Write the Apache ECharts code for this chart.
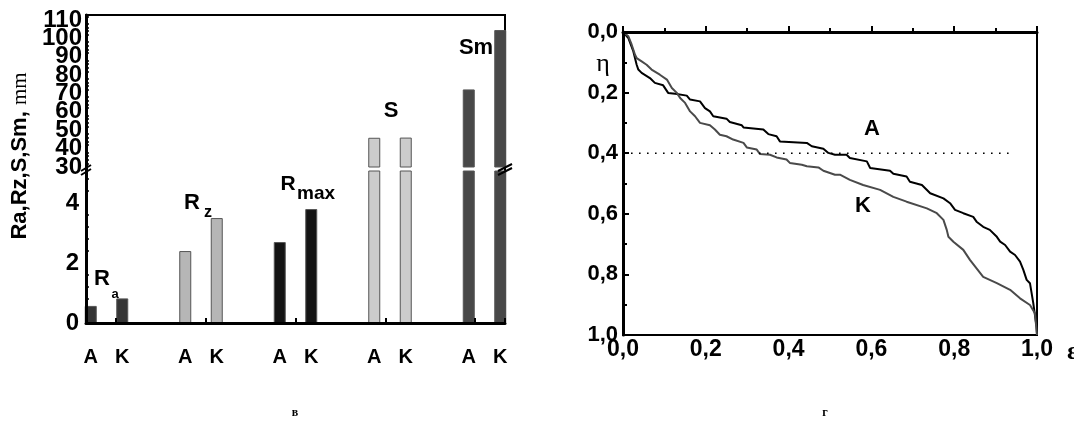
<!DOCTYPE html>
<html>
<head>
<meta charset="utf-8">
<title>Ra, Rz, S, Sm / eta</title>
<script src="https://cdn.jsdelivr.net/npm/echarts@6/dist/echarts.min.js"></script>
</head>
<body style="margin:0;background:#fff">
<div id="main" style="width:1074px;height:421px;"></div>
<script>
// left panel (в): roughness parameters, sample A and sample K
var groups = ['Ra', 'Rz', 'Rmax', 'S', 'Sm'];
var valuesA = [0.57, 2.4, 2.7, 45.9, 72.2];
var valuesK = [0.82, 3.5, 3.8, 46.0, 104.5];
var pairNames = ['A', 'K'];
var groupColors = ['#353535', '#b6b6b6', '#141414', '#cccccc', '#484848'];

// right panel (г): eta curves, [x, eta]
var curveA = [[0, 0], [0.013, 0.02], [0.025, 0.064], [0.033, 0.108], [0.037, 0.124], [0.045, 0.135],
  [0.065, 0.152], [0.077, 0.168], [0.097, 0.176], [0.109, 0.201], [0.126, 0.204], [0.154, 0.21],
  [0.162, 0.223], [0.186, 0.229], [0.198, 0.251], [0.21, 0.262], [0.218, 0.278], [0.25, 0.286],
  [0.258, 0.297], [0.287, 0.308], [0.291, 0.315], [0.339, 0.322], [0.351, 0.337], [0.371, 0.344],
  [0.379, 0.361], [0.444, 0.366], [0.456, 0.377], [0.484, 0.385], [0.496, 0.399], [0.512, 0.405],
  [0.54, 0.405], [0.548, 0.416], [0.589, 0.427], [0.597, 0.449], [0.645, 0.458], [0.653, 0.468],
  [0.685, 0.477], [0.693, 0.494], [0.722, 0.505], [0.742, 0.532], [0.774, 0.549], [0.79, 0.565],
  [0.802, 0.587], [0.822, 0.598], [0.846, 0.61], [0.854, 0.626], [0.87, 0.643], [0.886, 0.653],
  [0.903, 0.676], [0.911, 0.692], [0.923, 0.703], [0.935, 0.725], [0.947, 0.736], [0.959, 0.758],
  [0.967, 0.785], [0.975, 0.818], [0.983, 0.829], [0.991, 0.895], [0.999, 0.973], [1, 1]];
var curveK = [[0, 0], [0.013, 0.014], [0.021, 0.042], [0.029, 0.075], [0.033, 0.086], [0.045, 0.097],
  [0.057, 0.108], [0.069, 0.124], [0.089, 0.141], [0.106, 0.157], [0.118, 0.185], [0.13, 0.201],
  [0.138, 0.218], [0.15, 0.234], [0.162, 0.262], [0.174, 0.278], [0.186, 0.3], [0.21, 0.308],
  [0.222, 0.322], [0.234, 0.339], [0.25, 0.344], [0.266, 0.355], [0.291, 0.366], [0.299, 0.381],
  [0.323, 0.388], [0.331, 0.403], [0.355, 0.405], [0.371, 0.414], [0.395, 0.421], [0.403, 0.432],
  [0.432, 0.438], [0.444, 0.443], [0.472, 0.447], [0.484, 0.458], [0.512, 0.471], [0.524, 0.471],
  [0.548, 0.488], [0.58, 0.505], [0.621, 0.521], [0.653, 0.544], [0.685, 0.56], [0.734, 0.582],
  [0.758, 0.598], [0.774, 0.62], [0.782, 0.653], [0.786, 0.676], [0.798, 0.692], [0.822, 0.719],
  [0.838, 0.752], [0.854, 0.78], [0.87, 0.808], [0.903, 0.829], [0.935, 0.851], [0.959, 0.879],
  [0.983, 0.901], [0.995, 0.928], [1, 1]];
var levelLine = [[0, 0.4], [0.945, 0.4]];

// A, K, gap, A, K, gap ...
var slotNames = [];
var slotValues = [];
groups.forEach(function (g, i) {
  slotNames.push(pairNames[0], pairNames[1]);
  slotValues.push(valuesA[i], valuesK[i]);
  if (i < groups.length - 1) {
    slotNames.push('');
    slotValues.push('-');
  }
});

var SANS = 'Liberation Sans';
var comma = function (v) { return v.toFixed(1).replace('.', ','); };
var UPPER_MIN = 30;

var myChart = echarts.init(document.getElementById('main'));

var barStyle = {
  color: function (p) { return groupColors[Math.floor(p.dataIndex / 3)]; },
  borderColor: '#555',
  borderWidth: 1
};
var bigLabel = { color: '#000', fontFamily: SANS, fontWeight: 'bold', fontSize: 24 };

function txt(x, y, text, font, align) {
  return {
    type: 'text', x: x, y: y, z: 100,
    style: { text: text, font: font, fill: '#000', align: align || 'center', verticalAlign: 'middle',
             textAlign: align || 'center', textVerticalAlign: 'middle' }
  };
}
function slash(x1, y1, x2, y2) {
  return { type: 'line', z: 100, shape: { x1: x1, y1: y1, x2: x2, y2: y2 }, style: { stroke: '#000', lineWidth: 2 } };
}

option = {
  backgroundColor: '#fff',
  animation: false,
  grid: [
    { left: 86, top: 15, width: 419, height: 308, show: true, borderColor: '#000', borderWidth: 2 }, // frame
    { left: 75, top: 15, width: 441, height: 152 },  // upper part (30..)
    { left: 75, top: 171, width: 441, height: 152 }, // lower part (0..5)
    { left: 623, top: 32, width: 414, height: 303, show: true, borderColor: '#000', borderWidth: 2 }
  ],
  xAxis: [
    { type: 'value', gridIndex: 0, min: 0.666, max: 5.334, splitNumber: 5, z: 5,
      axisLine: { lineStyle: { color: '#000', width: 3 } },
      axisTick: { inside: true, length: 5, lineStyle: { width: 2, color: '#000' } },
      axisLabel: { show: false }, splitLine: { show: false } },
    { type: 'category', gridIndex: 1, data: slotNames, show: false },
    { type: 'category', gridIndex: 2, data: slotNames,
      axisLine: { show: false }, axisTick: { show: false },
      axisLabel: { interval: 0, margin: 24, color: '#000', fontFamily: SANS, fontWeight: 'bold', fontSize: 20 } },
    { type: 'value', gridIndex: 3, min: 0, max: 1, interval: 0.2, z: 5,
      axisLine: { lineStyle: { color: '#000', width: 3 } },
      axisTick: { inside: true, length: 6, lineStyle: { width: 2, color: '#000' } },
      minorTick: { show: true, splitNumber: 2, length: 4, lineStyle: { width: 2, color: '#000' } },
      axisLabel: { formatter: comma, margin: 3, color: '#000', fontFamily: SANS, fontWeight: 'bold', fontSize: 23,
                   showMinLabel: true, showMaxLabel: true, hideOverlap: false },
      splitLine: { show: false }, minorSplitLine: { show: false } }
  ],
  yAxis: [
    { type: 'value', gridIndex: 0, min: 0, max: 1, z: 5,
      axisLine: { lineStyle: { color: '#000', width: 3 } },
      axisTick: { show: false }, axisLabel: { show: false }, splitLine: { show: false } },
    // upper scale: 40..110 labels (30 is labelled by the helper axis below)
    { type: 'value', gridIndex: 1, position: 'left', min: UPPER_MIN, max: 112.7, interval: 10, offset: -11,
      axisLine: { show: false },
      axisTick: { inside: true, length: 6, lineStyle: { width: 2, color: '#000' } },
      minorTick: { show: true, splitNumber: 5, length: 3, lineStyle: { width: 1.5, color: '#000' } },
      axisLabel: Object.assign({ showMinLabel: false, showMaxLabel: false, margin: 4 }, bigLabel),
      splitLine: { show: false }, minorSplitLine: { show: false } },
    { type: 'value', gridIndex: 2, position: 'left', min: 0, max: 5.07, interval: 2, offset: -11,
      axisLine: { show: false },
      axisTick: { inside: true, length: 6, lineStyle: { width: 2, color: '#000' } },
      minorTick: { show: true, splitNumber: 5, length: 3, lineStyle: { width: 1.5, color: '#000' } },
      axisLabel: Object.assign({ showMinLabel: true, showMaxLabel: false, margin: 7 }, bigLabel),
      splitLine: { show: false }, minorSplitLine: { show: false } },
    { type: 'value', gridIndex: 3, inverse: true, min: 0, max: 1, interval: 0.2, z: 5,
      axisLine: { lineStyle: { color: '#000', width: 3 } },
      axisTick: { inside: true, length: 6, lineStyle: { width: 2, color: '#000' } },
      minorTick: { show: true, splitNumber: 2, length: 4, lineStyle: { width: 2, color: '#000' } },
      axisLabel: { formatter: comma, margin: 5, color: '#000', fontFamily: SANS, fontWeight: 'bold', fontSize: 22,
                   showMinLabel: true, showMaxLabel: true, hideOverlap: false },
      splitLine: { show: false }, minorSplitLine: { show: false } },
    // helper: only the "30" label of the upper scale
    { type: 'value', gridIndex: 1, position: 'left', min: UPPER_MIN, max: 112.7, interval: 10, offset: -11,
      axisLine: { show: false }, axisTick: { show: false },
      axisLabel: Object.assign({ showMinLabel: true, showMaxLabel: false, margin: 4,
                                 formatter: function (v) { return v === UPPER_MIN ? String(v) : ''; } }, bigLabel),
      splitLine: { show: false } }
  ],
  series: [
    { type: 'bar', xAxisIndex: 1, yAxisIndex: 1, data: slotValues, barWidth: 12, clip: true, itemStyle: barStyle },
    { type: 'bar', xAxisIndex: 2, yAxisIndex: 2, data: slotValues, barWidth: 12, clip: true, itemStyle: barStyle },
    { type: 'line', name: 'A', xAxisIndex: 3, yAxisIndex: 3, data: curveA, showSymbol: false,
      lineStyle: { color: '#000', width: 2 } },
    { type: 'line', name: 'K', xAxisIndex: 3, yAxisIndex: 3, data: curveK, showSymbol: false,
      lineStyle: { color: '#4a4a4a', width: 2 } },
    { type: 'line', xAxisIndex: 3, yAxisIndex: 3, data: levelLine, showSymbol: false,
      lineStyle: { color: '#000', width: 1.6, type: [1.6, 6.4] } }
  ],
  graphic: [
    // axis name of the left panel, rotated
    { type: 'text', x: 20, y: 156, rotation: Math.PI / 2, z: 100,
      style: { text: '{a|Ra,Rz,S,Sm, }{b|mm}', fill: '#000', align: 'center', verticalAlign: 'middle',
               textAlign: 'center', textVerticalAlign: 'middle',
               rich: { a: { font: 'bold 22px "Liberation Sans"' }, b: { font: '21px "Liberation Serif"' } } } },
    txt(102, 279, 'R', 'bold 22px "Liberation Sans"'),
    txt(115, 294, 'a', 'bold 13px "Liberation Sans"'),
    txt(192, 203, 'R', 'bold 22px "Liberation Sans"'),
    txt(208, 213, 'z', 'bold 16px "Liberation Sans"'),
    txt(288, 184, 'R', 'bold 21px "Liberation Sans"'),
    txt(297, 194, 'max', 'bold 19px "Liberation Sans"', 'left'),
    txt(391, 111, 'S', 'bold 22px "Liberation Sans"'),
    txt(476, 48, 'Sm', 'bold 22px "Liberation Sans"'),
    // break marks
    slash(81, 171, 91, 165), slash(81, 175, 91, 169),
    slash(498, 171, 512, 164), slash(498, 175, 512, 168),
    // right panel texts
    txt(872, 129, 'A', 'bold 22px "Liberation Sans"'),
    txt(863, 206, 'K', 'bold 22px "Liberation Sans"'),
    txt(603, 64, 'η', '26px "Liberation Serif"'),
    txt(1067, 352, 'ε', 'bold 26px "Liberation Serif"', 'left'),
    // captions
    txt(295, 413, 'в', 'bold 12px "Liberation Serif"'),
    txt(825, 413, 'г', 'bold 12px "Liberation Serif"')
  ]
};

myChart.setOption(option);
</script>
</body>
</html>
